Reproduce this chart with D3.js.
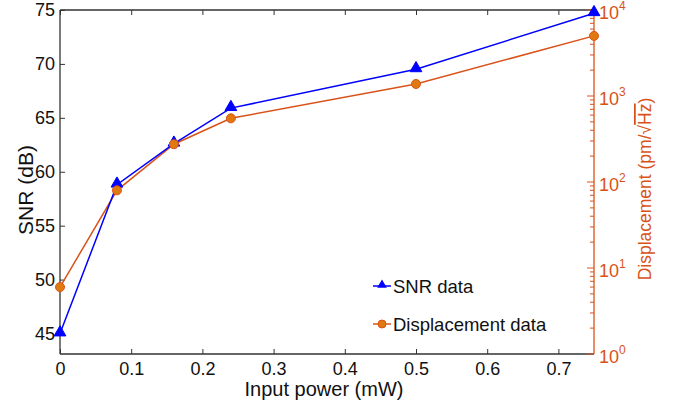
<!DOCTYPE html>
<html>
<head>
<meta charset="utf-8">
<script src="https://cdn.jsdelivr.net/npm/d3@7"></script>
<style>
  body { margin: 0; background: #fff; }
  text { font-family: "Liberation Sans", Arial, sans-serif; }
</style>
</head>
<body>
<div id="chart"></div>
<script>
// Data
const power = [0, 0.08, 0.16, 0.24, 0.5, 0.75];
const snr = [45.0, 58.8, 62.6, 65.9, 69.5, 74.7];
const displacement = [6.0, 80, 275, 550, 1380, 5000];
const xTicks = [0, 0.1, 0.2, 0.3, 0.4, 0.5, 0.6, 0.7];
const snrTicks = [45, 50, 55, 60, 65, 70, 75];
const dispTicks = [1, 10, 100, 1000, 10000];

const W = 679, H = 408;
const margin = { top: 10, right: 85, bottom: 54, left: 60 };
const width = W - margin.left - margin.right;
const height = H - margin.top - margin.bottom;

const blue = "#0000ff";
const orange = "#d95319";
const orangeFill = "#e07a10";

const svg = d3.select("#chart")
  .append("svg")
  .attr("width", W)
  .attr("height", H);

const g = svg.append("g")
  .attr("transform", "translate(" + margin.left + "," + margin.top + ")");

// Scales
const x = d3.scaleLinear().domain([0, 0.75]).range([0, width]);
const y = d3.scaleLinear().domain([43.1, 75]).range([height, 0]);
const yR = d3.scaleLog().domain([1, 10000]).range([height, 0]);

// Bottom axis (ticks inward)
const xAxis = g.append("g")
  .attr("transform", "translate(0," + height + ")")
  .call(d3.axisBottom(x).tickValues(xTicks).tickSize(-5).tickPadding(8)
    .tickFormat(d => d3.format("")(d)));
// Top border with ticks
const xTop = g.append("g")
  .call(d3.axisTop(x).tickValues(xTicks).tickSize(-5).tickFormat(""));

// Left axis
const yAxis = g.append("g")
  .call(d3.axisLeft(y).tickValues(snrTicks).tickSize(-5).tickPadding(5));

[xAxis, xTop, yAxis].forEach(a => {
  a.select(".domain").attr("stroke", "#333").attr("stroke-width", 1.3);
  a.selectAll(".tick line").attr("stroke", "#333");
  a.selectAll("text").attr("fill", "#111").style("font-size", "18px");
});
xAxis.select(".domain").attr("d", "M0,0H" + width);
xTop.select(".domain").attr("d", "M0,0H" + width);
yAxis.select(".domain").attr("d", "M0,0V" + height);

// Right log axis, orange
const minor = [];
for (let e = 0; e < 4; e++) for (let k = 2; k <= 9; k++) minor.push(k * Math.pow(10, e));

const yRight = g.append("g").attr("transform", "translate(" + width + ",0)");
yRight.append("line").attr("y1", 0).attr("y2", height).attr("stroke", orange).attr("stroke-width", 1.3);
yRight.selectAll(".minor").data(minor).enter().append("line")
  .attr("x1", 0).attr("x2", -4)
  .attr("y1", d => yR(d)).attr("y2", d => yR(d))
  .attr("stroke", orange);
yRight.selectAll(".major").data(dispTicks).enter().append("line")
  .attr("x1", 0).attr("x2", -7)
  .attr("y1", d => yR(d)).attr("y2", d => yR(d))
  .attr("stroke", orange);
const rl = yRight.selectAll(".lab").data(dispTicks).enter().append("text")
  .attr("x", 5).attr("y", d => yR(d) + 9)
  .attr("fill", orange).style("font-size", "18px");
rl.append("tspan").text("10");
rl.append("tspan").attr("dy", -9).style("font-size", "12px").text(d => Math.round(Math.log10(d)));

// Lines
const lineSnr = d3.line().x((d, i) => x(power[i])).y(d => y(d));
const lineDisp = d3.line().x((d, i) => x(power[i])).y(d => yR(d));

g.append("path").datum(displacement).attr("d", lineDisp)
  .attr("fill", "none").attr("stroke", orange).attr("stroke-width", 1.5);
g.append("path").datum(snr).attr("d", lineSnr)
  .attr("fill", "none").attr("stroke", blue).attr("stroke-width", 1.5);

const tri = d3.symbol().type(d3.symbolTriangle).size(60);
g.selectAll(".snr").data(snr).enter().append("path")
  .attr("d", tri)
  .attr("transform", (d, i) => "translate(" + x(power[i]) + "," + (y(d) - 1) + ")")
  .attr("fill", blue).attr("stroke", blue);
g.selectAll(".disp").data(displacement).enter().append("circle")
  .attr("cx", (d, i) => x(power[i])).attr("cy", d => yR(d)).attr("r", 4.5)
  .attr("fill", orangeFill).attr("stroke", orange);

// Axis labels
svg.append("text")
  .attr("x", margin.left + width / 2 - 3).attr("y", 396)
  .attr("text-anchor", "middle").attr("fill", "#111").style("font-size", "20px")
  .text("Input power (mW)");
svg.append("text")
  .attr("transform", "translate(33," + 190 + ") rotate(-90)")
  .attr("text-anchor", "middle").attr("fill", "#111").style("font-size", "21px")
  .text("SNR (dB)");
const rlab = svg.append("text")
  .attr("transform", "translate(651," + 189 + ") rotate(-90)")
  .attr("text-anchor", "middle").attr("fill", orange).style("font-size", "17.5px");
rlab.append("tspan").text("Displacement (pm/√");
rlab.append("tspan").style("text-decoration", "overline").text("Hz");
rlab.append("tspan").text(")");

// Legend
const legendItems = [
  { name: "SNR data", color: blue, marker: "tri" },
  { name: "Displacement data", color: orange, marker: "circ" }
];
const legend = svg.append("g").attr("transform", "translate(373,286)");
legendItems.forEach((d, i) => {
  const row = legend.append("g").attr("transform", "translate(0," + i * 38 + ")");
  row.append("line").attr("x1", 0).attr("x2", 18).attr("stroke", d.color).attr("stroke-width", 1.5);
  if (d.marker === "tri") {
    row.append("path").attr("d", d3.symbol().type(d3.symbolTriangle).size(40)())
      .attr("transform", "translate(9,-1)").attr("fill", blue);
  } else {
    row.append("circle").attr("cx", 9).attr("r", 4).attr("fill", orangeFill).attr("stroke", orange);
  }
  row.append("text").attr("x", 20).attr("y", 7).attr("fill", "#111")
    .style("font-size", "18.5px").text(d.name);
});
</script>
</body>
</html>
